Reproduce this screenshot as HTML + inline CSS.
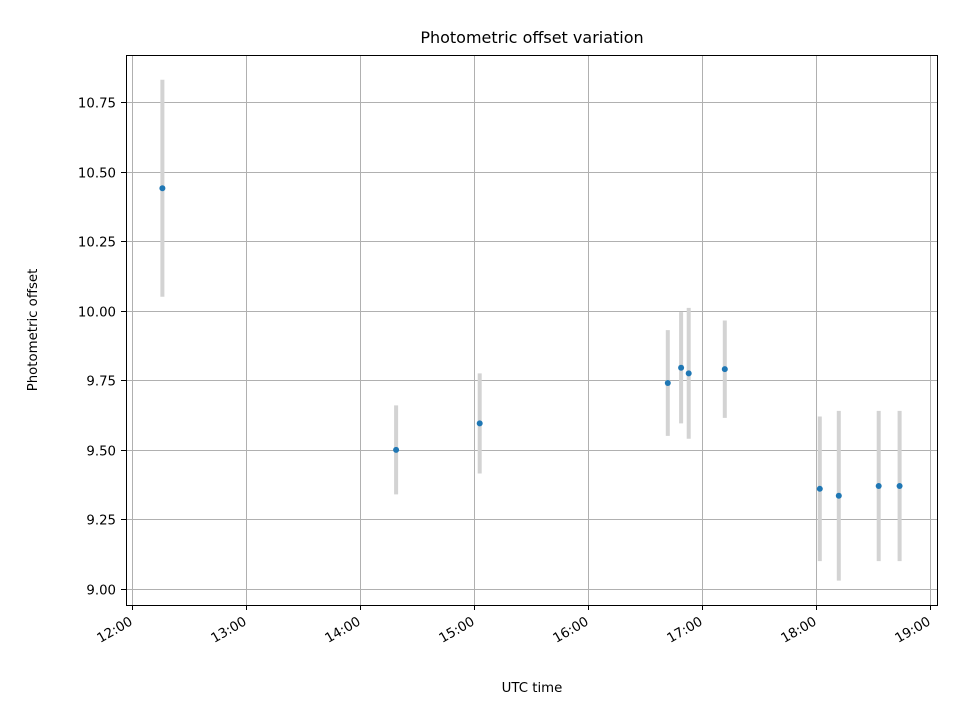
<!DOCTYPE html>
<html><head><meta charset="utf-8"><style>
html,body{margin:0;padding:0;background:#fff;}
svg{display:block;font-family:"DejaVu Sans","Liberation Sans",sans-serif;}
</style></head><body>
<svg id="chart" width="960" height="720" viewBox="0 0 960 720">
<rect x="0" y="0" width="960" height="720" fill="#fff"/>
<g id="grid"></g>
<g id="errs"></g>
<g id="pts"></g>
<rect x="126.5" y="55.5" width="811" height="550" fill="none" stroke="#000" stroke-width="1"/>
<g id="xt"></g>
<g id="yt"></g>
<text x="532" y="43" font-size="16" text-anchor="middle">Photometric offset variation</text>
<text x="532" y="692" font-size="13.3" text-anchor="middle">UTC time</text>
<text transform="translate(37,330) rotate(-90)" font-size="13.3" text-anchor="middle">Photometric offset</text>
</svg>
<script>
const times = ["12:16","14:19","15:03","16:42","16:49","16:53","17:12","18:02","18:12","18:33","18:44"];
const offsets = [10.44,9.50,9.595,9.74,9.795,9.775,9.79,9.36,9.335,9.37,9.37];
const errors = [0.39,0.16,0.18,0.19,0.20,0.235,0.175,0.26,0.305,0.27,0.27];
const xTickLabels = ["12:00","13:00","14:00","15:00","16:00","17:00","18:00","19:00"];
const yTickValues = [9.00,9.25,9.50,9.75,10.00,10.25,10.50,10.75];

const NS="http://www.w3.org/2000/svg";
function toMin(s){const p=s.split(":");return +p[0]*60+ +p[1];}
function xs(m){return 132+(m-720)*1.9;}
function ys(v){return 589-(v-9.0)*278.3;}
function mk(tag,attrs,parent){const e=document.createElementNS(NS,tag);for(const k in attrs)e.setAttribute(k,attrs[k]);document.getElementById(parent).appendChild(e);return e;}

xTickLabels.forEach(function(lbl){
  const x=Math.round(xs(toMin(lbl)))+0.5;
  const g=mk("line",{x1:x,x2:x,y1:55,y2:605,stroke:"#b0b0b0","stroke-width":1},"grid");
  
  
  const t=mk("line",{x1:x,x2:x,y1:605,y2:610,stroke:"#000","stroke-width":1},"xt");
  
  
  const tx=mk("text",{transform:"translate("+(x+1)+",624) rotate(-30)","font-size":"13.3","text-anchor":"end"},"xt");
  tx.textContent=lbl;
  
  
});
yTickValues.forEach(function(v){
  const y=Math.round(ys(v))+0.5;
  const g=mk("line",{x1:126,x2:938,y1:y,y2:y,stroke:"#b0b0b0","stroke-width":1},"grid");
  
  
  const t=mk("line",{x1:121,x2:126,y1:y,y2:y,stroke:"#000","stroke-width":1},"yt");
  
  
  const tx=mk("text",{x:116,y:y+5,"font-size":"13.3","text-anchor":"end"},"yt");
  tx.textContent=v.toFixed(2);
  
  
});
times.forEach(function(tm,i){
  const x=xs(toMin(tm));
  const e=mk("line",{x1:x,x2:x,y1:ys(offsets[i]-errors[i]),y2:ys(offsets[i]+errors[i]),stroke:"#d3d3d3","stroke-width":4},"errs");
  
  
  const c=mk("circle",{cx:x,cy:ys(offsets[i]),r:3,fill:"#1f77b4"},"pts");
  
  
});
</script>
</body></html>
